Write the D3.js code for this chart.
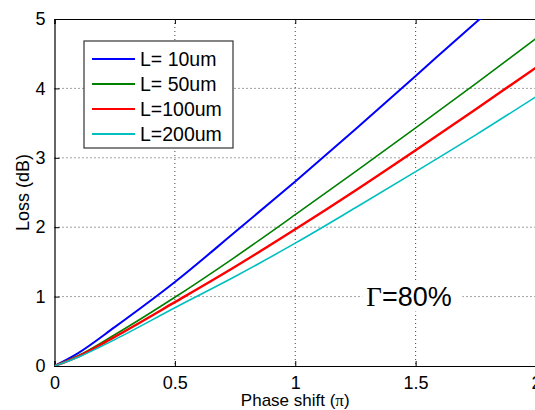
<!DOCTYPE html>
<html>
<head>
<meta charset="utf-8">
<script src="https://cdn.jsdelivr.net/npm/d3@7"></script>
<style>
  html, body { margin: 0; padding: 0; background: #fff; }
  svg { display: block; font-family: "Liberation Sans", Arial, sans-serif; }
</style>
</head>
<body>
<div id="chart"></div>
<script>
// Phase shift (in units of pi) sample points
const phase = [0, 0.1, 0.25, 0.5, 0.75, 1, 1.25, 1.5, 1.75, 2];

// Loss (dB) per waveguide length
const loss10 = [0, 0.19, 0.56, 1.21, 1.93, 2.66, 3.41, 4.18, 4.95, 5.7];
const loss50 = [0, 0.15, 0.45, 0.99, 1.57, 2.18, 2.80, 3.43, 4.07, 4.72];
const loss100 = [0, 0.14, 0.42, 0.92, 1.43, 1.97, 2.53, 3.11, 3.70, 4.30];
const loss200 = [0, 0.13, 0.38, 0.84, 1.29, 1.77, 2.28, 2.80, 3.33, 3.88];

const seriesNames = ['L= 10um', 'L= 50um', 'L=100um', 'L=200um'];
const xTicks = [0, 0.5, 1, 1.5, 2];
const yTicks = [0, 1, 2, 3, 4, 5];

const width = 535, height = 410;
const margin = { top: 19, right: -1, bottom: 44, left: 54.5 };
const innerW = width - margin.left - margin.right;
const innerH = height - margin.top - margin.bottom;

const series = [
    { name: seriesNames[0], values: loss10, color: '#0000ff', width: 2 },
    { name: seriesNames[1], values: loss50, color: '#008000', width: 1.6 },
    { name: seriesNames[2], values: loss100, color: '#ff0000', width: 2.4 },
    { name: seriesNames[3], values: loss200, color: '#00bfbf', width: 1.6 }
];

const svg = d3.select('#chart')
    .append('svg')
    .attr('width', width)
    .attr('height', height);

const x = d3.scaleLinear().domain([0, 2]).range([0, innerW]);
const y = d3.scaleLinear().domain([0, 5]).range([innerH, 0]);

const g = svg.append('g')
    .attr('transform', `translate(${margin.left},${margin.top})`);

svg.append('defs').append('clipPath')
    .attr('id', 'plotClip')
    .append('rect')
    .attr('width', innerW)
    .attr('height', innerH);

// Dotted grid
const grid = g.append('g').attr('class', 'grid');
grid.selectAll('.vgrid')
    .data(xTicks.filter(d => d > 0 && d < 2))
    .enter().append('line')
    .attr('x1', d => x(d)).attr('x2', d => x(d))
    .attr('y1', 0).attr('y2', innerH)
    .attr('stroke', '#444').attr('stroke-width', 1)
    .attr('stroke-dasharray', '1,3');
grid.selectAll('.hgrid')
    .data(yTicks.filter(d => d > 0 && d < 5))
    .enter().append('line')
    .attr('x1', 0).attr('x2', innerW)
    .attr('y1', d => y(d)).attr('y2', d => y(d))
    .attr('stroke', '#444').attr('stroke-width', 1)
    .attr('stroke-dasharray', '1,3');

// Axes (MATLAB style: ticks inside, box on)
const xAxis = g.append('g')
    .attr('transform', `translate(0,${innerH})`)
    .call(d3.axisBottom(x).tickValues(xTicks).tickSize(-5).tickPadding(10).tickFormat(d3.format('')));
const xAxisTop = g.append('g')
    .call(d3.axisTop(x).tickValues(xTicks).tickSize(-5).tickFormat(''));
const yAxis = g.append('g')
    .call(d3.axisLeft(y).tickValues(yTicks).tickSize(-5).tickPadding(9).tickFormat(d3.format('d')));

[xAxis, xAxisTop, yAxis].forEach(a => {
    a.select('.domain').attr('stroke', '#000').attr('stroke-width', 1.2);
    a.selectAll('.tick line').attr('stroke', '#000');
    a.selectAll('text')
        .attr('fill', '#000')
        .style('font-size', '18px')
        .style('font-family', '"Liberation Sans", Arial, sans-serif');
});

// Lines
const line = d3.line()
    .x((d, i) => x(phase[i]))
    .y(d => y(d))
    .curve(d3.curveMonotoneX);

g.append('g')
    .attr('clip-path', 'url(#plotClip)')
    .selectAll('.series')
    .data(series)
    .enter().append('path')
    .attr('fill', 'none')
    .attr('stroke', d => d.color)
    .attr('stroke-width', d => d.width)
    .attr('d', d => line(d.values));

// Legend
const legend = svg.append('g').attr('transform', 'translate(84,41)');
legend.append('rect')
    .attr('width', 149).attr('height', 107)
    .attr('fill', '#fff')
    .attr('stroke', '#333').attr('stroke-width', 1.2);
series.forEach((s, i) => {
    const row = legend.append('g').attr('transform', `translate(0,${18 + i * 25})`);
    row.append('line')
        .attr('x1', 8).attr('x2', 51)
        .attr('stroke', s.color).attr('stroke-width', 2);
    row.append('text')
        .attr('x', 56).attr('y', 7)
        .style('font-size', '19.5px')
        .attr('fill', '#000')
        .text(s.name);
});

// Annotation
const ann = g.append('g').attr('transform', `translate(${x(1.295)},${y(0.87)})`);
ann.append('rect')
    .attr('x', -4).attr('y', -24)
    .attr('width', 100).attr('height', 30)
    .attr('fill', '#fff');
const annText = ann.append('text')
    .style('font-size', '27px')
    .attr('fill', '#000');
annText.append('tspan')
    .style('font-family', '"Liberation Serif", "Times New Roman", serif')
    .text('\u0393');
annText.append('tspan').text('=80%');

// Axis labels
svg.append('text')
    .attr('x', margin.left + x(1))
    .attr('y', 406)
    .attr('text-anchor', 'middle')
    .style('font-size', '17px')
    .attr('fill', '#000')
    .call(t => {
        t.append('tspan').text('Phase shift (');
        t.append('tspan').style('font-family', '"Liberation Serif", serif').text('\u03c0');
        t.append('tspan').text(')');
    });

svg.append('text')
    .attr('transform', `translate(29,${margin.top + innerH / 2}) rotate(-90)`)
    .attr('text-anchor', 'middle')
    .style('font-size', '18px')
    .attr('fill', '#000')
    .text('Loss (dB)');
</script>
</body>
</html>
